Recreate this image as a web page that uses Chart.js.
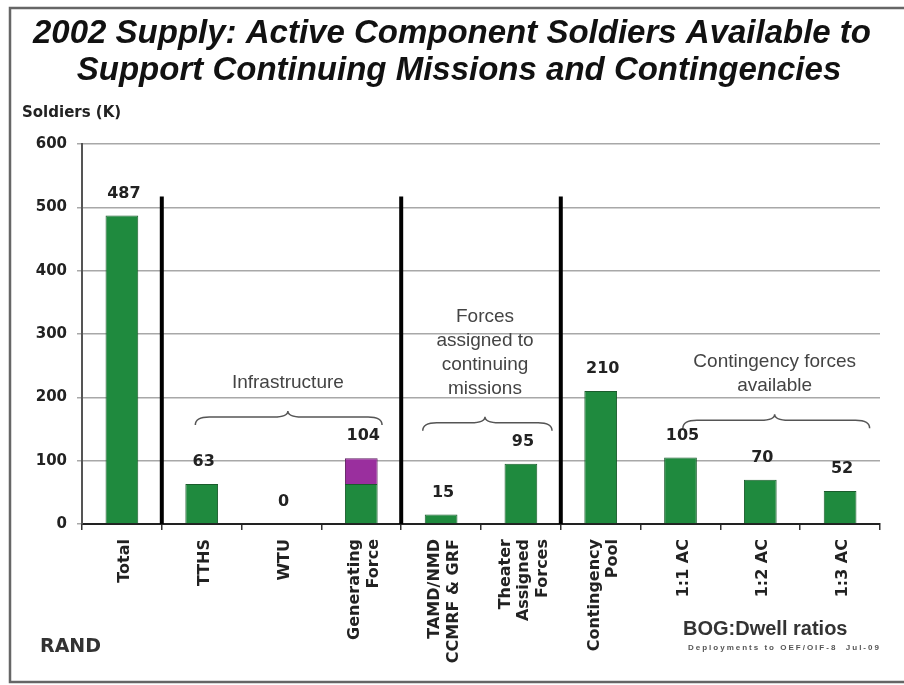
<!DOCTYPE html>
<html>
<head>
<meta charset="utf-8">
<script src="https://cdn.jsdelivr.net/npm/chart.js@4.4.1/dist/chart.umd.min.js"></script>
<style>
  html, body { margin: 0; padding: 0; background: #fff; }
  #wrap { width: 904px; height: 685px; }
</style>
</head>
<body>
<div id="wrap"><canvas id="chart" width="904" height="685"></canvas></div>
<script>
// values (thousands of soldiers)
var categories = ['Total', 'TTHS', 'WTU', ['Generating', 'Force'], ['TAMD/NMD', 'CCMRF & GRF'],
    ['Theater', 'Assigned', 'Forces'], ['Contingency', 'Pool'], '1:1 AC', '1:2 AC', '1:3 AC'];
var greenValues = [487, 63, 0, 63, 15, 95, 210, 105, 70, 52];
var purpleValues = [0, 0, 0, 41, 0, 0, 0, 0, 0, 0];
var yTicks = [0, 100, 200, 300, 400, 500, 600];

var titleLines = ['2002 Supply: Active Component Soldiers Available to',
    'Support Continuing Missions and Contingencies'];

// vertical dividers come after these category indexes, up to this value
var dividerAfter = [0, 3, 5];
var dividerTop = 517;

// brace groups: from / cusp / to in category units, brace height in y units
var groups = [
    { text: ['Infrastructure'], from: 0.92, cusp: 2.08, to: 3.26, y: 169 },
    { text: ['Forces', 'assigned to', 'continuing', 'missions'], from: 3.77, cusp: 4.55, to: 5.39, y: 160 },
    { text: ['Contingency forces', 'available'], from: 7.03, cusp: 8.18, to: 9.37, y: 164 }
];

var GREEN = '#1f8a3e';
var PURPLE = '#9a2f9e';

function drawBrace(ctx, x1, cx, x2, y) {
    var r = 14;
    ctx.beginPath();
    ctx.moveTo(x1, y + 8);
    ctx.quadraticCurveTo(x1, y, x1 + r, y);
    ctx.lineTo(cx - r, y);
    ctx.quadraticCurveTo(cx, y, cx, y - 6);
    ctx.quadraticCurveTo(cx, y, cx + r, y);
    ctx.lineTo(x2 - r, y);
    ctx.quadraticCurveTo(x2, y, x2, y + 8);
    ctx.stroke();
}

var overlay = {
    id: 'overlay',
    afterDatasetsDraw: function(chart) {
        var ctx = chart.ctx;
        var x = chart.scales.x, y = chart.scales.y;
        ctx.save();

        // dividers
        ctx.strokeStyle = '#000';
        ctx.lineWidth = 4;
        dividerAfter.forEach(function(i) {
            var px = (x.getPixelForValue(i) + x.getPixelForValue(i + 1)) / 2;
            ctx.beginPath();
            ctx.moveTo(px, y.getPixelForValue(0));
            ctx.lineTo(px, y.getPixelForValue(dividerTop));
            ctx.stroke();
        });

        // value labels
        ctx.fillStyle = '#222';
        ctx.font = 'bold 16px "DejaVu Sans"';
        ctx.textAlign = 'center';
        ctx.textBaseline = 'middle';
        greenValues.forEach(function(v, i) {
            var total = v + purpleValues[i];
            ctx.fillText(String(total), x.getPixelForValue(i) + 2, y.getPixelForValue(total) - 22);
        });

        // category labels, rotated, lines centred on the bar
        ctx.font = 'bold 16px "DejaVu Sans"';
        ctx.textAlign = 'right';
        var lh = 18.5;
        categories.forEach(function(c, i) {
            var lines = Array.isArray(c) ? c : [c];
            var cx = x.getPixelForValue(i) + 3;
            ctx.save();
            ctx.translate(cx, y.getPixelForValue(0) + 15);
            ctx.rotate(-Math.PI / 2);
            lines.forEach(function(t, k) {
                ctx.fillText(t, 0, (k - (lines.length - 1) / 2) * lh);
            });
            ctx.restore();
        });

        // braces and group text
        ctx.textAlign = 'center';
        ctx.strokeStyle = '#555';
        ctx.lineWidth = 1.5;
        ctx.fillStyle = '#444';
        ctx.font = '19px "Liberation Sans"';
        groups.forEach(function(g) {
            var by = y.getPixelForValue(g.y);
            var cx = x.getPixelForValue(g.cusp);
            drawBrace(ctx, x.getPixelForValue(g.from), cx, x.getPixelForValue(g.to), by);
            var n = g.text.length;
            g.text.forEach(function(t, k) {
                ctx.fillText(t, cx, by - 34 - (n - 1 - k) * 24);
            });
        });
        ctx.restore();
    },
    afterDraw: function(chart) {
        var ctx = chart.ctx;
        ctx.save();
        // frame
        ctx.strokeStyle = '#666';
        ctx.lineWidth = 2.5;
        ctx.strokeRect(10, 8, 904, 674);

        // title
        ctx.fillStyle = '#111';
        ctx.textAlign = 'center';
        ctx.textBaseline = 'middle';
        ctx.font = 'italic bold 33px "Liberation Sans"';
        ctx.fillText(titleLines[0], 452, 34);
        ctx.fillText(titleLines[1], 459, 71);

        // axis title
        ctx.textAlign = 'left';
        ctx.font = 'bold 15px "DejaVu Sans"';
        ctx.fillStyle = '#222';
        ctx.fillText('Soldiers (K)', 22, 113);

        // footer
        ctx.font = 'bold 19px "DejaVu Sans"';
        ctx.fillStyle = '#333';
        ctx.fillText('RAND', 40, 647);
        ctx.font = 'bold 20px "Liberation Sans"';
        ctx.fillText('BOG:Dwell ratios', 683, 629);
        ctx.font = 'bold 8px "Liberation Sans"';
        ctx.letterSpacing = '2px';
        ctx.fillStyle = '#555';
        ctx.fillText('Deployments to OEF/OIF-8  Jul-09', 688, 648);
        ctx.restore();
    }
};

Chart.defaults.font.family = '"DejaVu Sans"';

new Chart(document.getElementById('chart').getContext('2d'), {
    type: 'bar',
    data: {
        labels: categories,
        datasets: [{
            label: 'Soldiers',
            data: greenValues,
            backgroundColor: GREEN,
            borderColor: '#1a5c2c',
            borderWidth: 1
        }, {
            label: 'Other',
            data: purpleValues,
            backgroundColor: PURPLE,
            borderColor: '#5e1f60',
            borderWidth: 1
        }]
    },
    options: {
        responsive: false,
        animation: false,
        layout: { padding: { left: 22, top: 144, right: 24, bottom: 0 } },
        plugins: {
            legend: { display: false },
            tooltip: { enabled: false },
            title: { display: false }
        },
        datasets: { bar: { categoryPercentage: 1, barPercentage: 0.41 } },
        scales: {
            x: {
                stacked: true,
                afterFit: function(scale) { scale.height = 161; },
                grid: { drawOnChartArea: false, tickLength: 6, color: '#333', lineWidth: 1.5 },
                border: { color: '#222', width: 2 },
                ticks: { display: false }
            },
            y: {
                stacked: true,
                min: yTicks[0],
                max: yTicks[yTicks.length - 1],
                afterFit: function(scale) { scale.width = 60; },
                afterBuildTicks: function(scale) {
                    scale.ticks = yTicks.map(function(v) { return { value: v }; });
                },
                grid: { color: '#a8a8a8', lineWidth: 1.5, tickLength: 5 },
                border: { color: '#555', width: 2 },
                ticks: {
                    padding: 10,
                    color: '#222',
                    font: { size: 15, weight: 'bold' }
                }
            }
        }
    },
    plugins: [overlay]
});
</script>
</body>
</html>
